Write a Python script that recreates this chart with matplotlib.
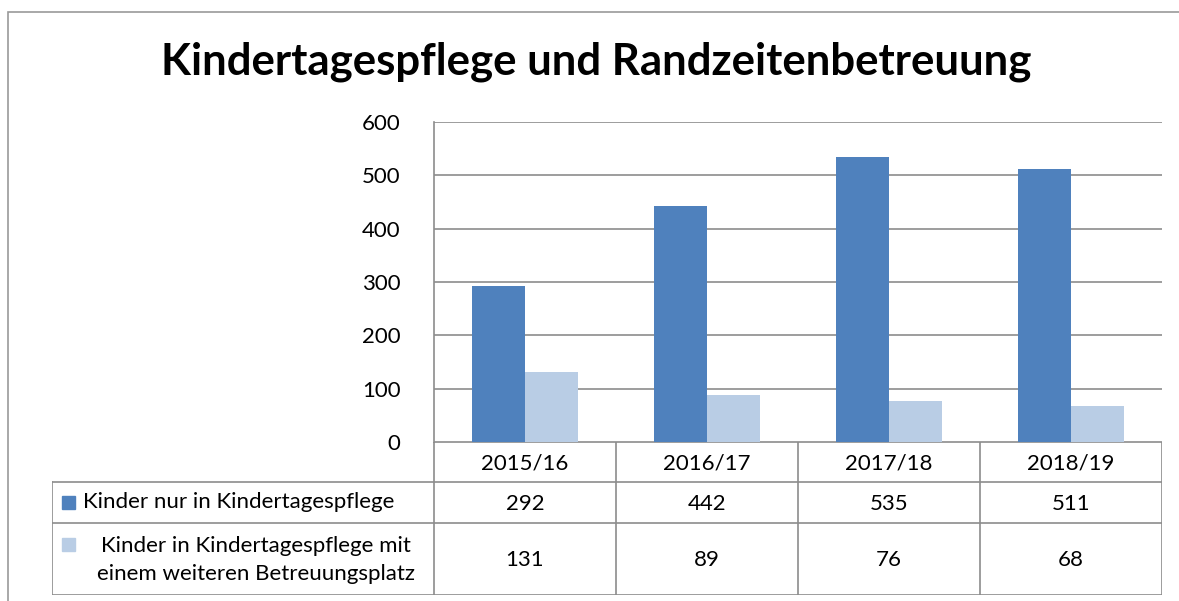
import matplotlib.pyplot as plt
from matplotlib.patches import Rectangle

categories = ["2015/16", "2016/17", "2017/18", "2018/19"]
series_names = ["Kinder nur in Kindertagespflege",
                "Kinder in Kindertagespflege mit\neinem weiteren Betreuungsplatz"]
nur_tagespflege = [292, 442, 535, 511]
mit_betreuungsplatz = [131, 89, 76, 68]
yticks = [0, 100, 200, 300, 400, 500, 600]

dark = "#4F81BD"
light = "#B9CDE5"
grid_c = "#8C8C8C"
W, H = 1179, 601
fs = 16

plt.rcParams['font.family'] = ['Lato', 'DejaVu Sans']

fig = plt.figure(figsize=(W / 100, H / 100), dpi=100)

# outer frame
fig.patches.append(Rectangle((8 / W, -0.1), 1.2, (601 - 12) / H + 0.1, transform=fig.transFigure,
                             fill=False, edgecolor="#9A9A9A", lw=1.2))

fig.text(596 / W, 1 - 62 / H, "Kindertagespflege und Randzeitenbetreuung",
         ha="center", va="center", fontsize=31.5, fontweight="bold")

# bar area
x0, x1, ytop, ybot = 434, 1162, 122, 442
ax = fig.add_axes([x0 / W, 1 - ybot / H, (x1 - x0) / W, (ybot - ytop) / H])
n = len(categories)
bw = 0.29
xs = list(range(n))
ax.bar([x - bw / 2 for x in xs], nur_tagespflege, width=bw, color=dark, zorder=3)
ax.bar([x + bw / 2 for x in xs], mit_betreuungsplatz, width=bw, color=light, zorder=3)
ax.set_xlim(-0.5, n - 0.5)
ax.set_ylim(0, 600)
ax.set_yticks(yticks)
ax.set_yticklabels([str(t) for t in yticks], fontsize=fs)
ax.tick_params(axis="y", length=0, pad=24)
ax.set_xticks([])
ax.grid(axis="y", color=grid_c, lw=1.2, zorder=0)
for s in ["top", "right", "bottom"]:
    ax.spines[s].set_visible(False)
ax.spines["left"].set_color(grid_c)
ax.spines["left"].set_linewidth(1.2)

# data table
tleft, tbot = 52, 595
tax = fig.add_axes([tleft / W, 1 - tbot / H, (x1 - tleft) / W, (tbot - ybot) / H])
cw = (x1 - x0) / n
lab_left = -0.5 - (x0 - tleft) / cw
tax.set_xlim(lab_left, n - 0.5)
tax.set_ylim(tbot, ybot)
tax.axis("off")
rows = [ybot, 482, 523, tbot]
lc = "#8C8C8C"
# horizontal lines
tax.plot([-0.5, n - 0.5], [ybot, ybot], color=lc, lw=1.2)
for yy in rows[1:]:
    tax.plot([lab_left, n - 0.5], [yy, yy], color=lc, lw=1.2)
# vertical lines
tax.plot([lab_left, lab_left], [482, tbot], color=lc, lw=1.2)
for i in range(n + 1):
    tax.plot([i - 0.5, i - 0.5], [ybot, tbot], color=lc, lw=1.2)

for i, c in enumerate(categories):
    tax.text(i, (rows[0] + rows[1]) / 2 + 2, c, ha="center", va="center", fontsize=fs)
for r, (vals, col, name) in enumerate([(nur_tagespflege, dark, series_names[0]),
                                        (mit_betreuungsplatz, light, series_names[1])]):
    yc = (rows[r + 1] + rows[r + 2]) / 2
    for i, v in enumerate(vals):
        tax.text(i, yc + 1, str(v), ha="center", va="center", fontsize=fs)
    key_y = yc if r == 0 else 544
    tax.add_patch(Rectangle((lab_left + 10 / cw, key_y - 6.5), 13 / cw, 13, color=col))
    if r == 0:
        tax.text(lab_left + 31 / cw, yc, name, ha="left", va="center", fontsize=fs)
    else:
        tax.text(lab_left + 204 / cw, yc + 1, name, ha="center", va="center", fontsize=fs,
                 linespacing=1.45)

fig.savefig("out.png", dpi=100)
